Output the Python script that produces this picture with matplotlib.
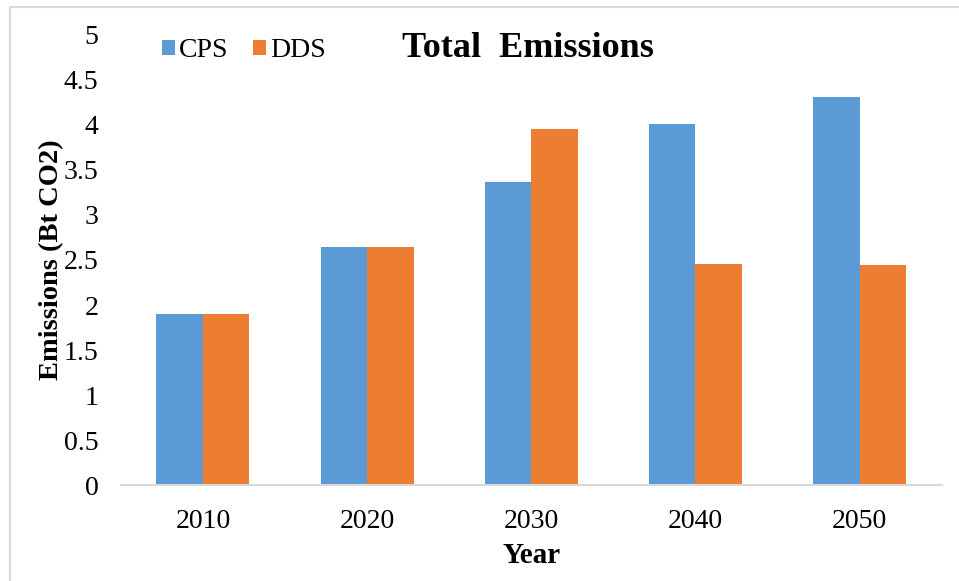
import matplotlib.pyplot as plt
import numpy as np
from matplotlib.patches import Rectangle

plt.rcParams["font.family"] = ["Liberation Serif", "DejaVu Serif"]

years = ["2010", "2020", "2030", "2040", "2050"]
cps = [1.90, 2.64, 3.37, 4.01, 4.31]
dds = [1.90, 2.64, 3.95, 2.46, 2.44]

fig = plt.figure(figsize=(9.59, 5.81), dpi=100)
ax = fig.add_axes([0.126, 0.165, 0.856, 0.775])

x = np.arange(len(years))
w = 0.283
ax.bar(x - w / 2, cps, w, color="#5b9bd5", label="CPS")
ax.bar(x + w / 2, dds, w, color="#ed7d31", label="DDS")

ax.set_xlim(-0.5, len(years) - 0.5)
ax.set_ylim(0, 5)
ax.set_yticks(np.arange(0, 5.01, 0.5))
ax.set_yticklabels(["0", "0.5", "1", "1.5", "2", "2.5", "3", "3.5", "4", "4.5", "5"])
ax.set_xticks(x)
ax.set_xticklabels(years)
ax.tick_params(axis="both", length=0, labelsize=20)
ax.tick_params(axis="x", pad=17)
ax.tick_params(axis="y", pad=16)

for s in ["top", "right", "left"]:
    ax.spines[s].set_visible(False)
ax.spines["bottom"].set_color("#d9d9d9")
ax.spines["bottom"].set_linewidth(1.5)

ax.set_xlabel("Year", fontsize=21, fontweight="bold", labelpad=6)
ax.set_ylabel("Emissions (Bt CO2)", fontsize=20.5, fontweight="bold", labelpad=0)

fig.text(0.551, 0.916, "Total  Emissions", fontsize=26, fontweight="bold",
         ha="center", va="center")

ax.legend(loc="upper left", bbox_to_anchor=(0.03, 1.03), ncol=2, frameon=False,
          fontsize=20, handlelength=0.45, handleheight=0.45, handletextpad=0.15,
          columnspacing=0.9, borderaxespad=0.2)

# outer chart frame
fig.patches.append(Rectangle((10 / 959, -0.05), 1.1, 1 - 7 / 581 + 0.05,
                             transform=fig.transFigure, fill=False,
                             edgecolor="#d9d9d9", linewidth=1.5))

fig.savefig("out.png", dpi=100)
